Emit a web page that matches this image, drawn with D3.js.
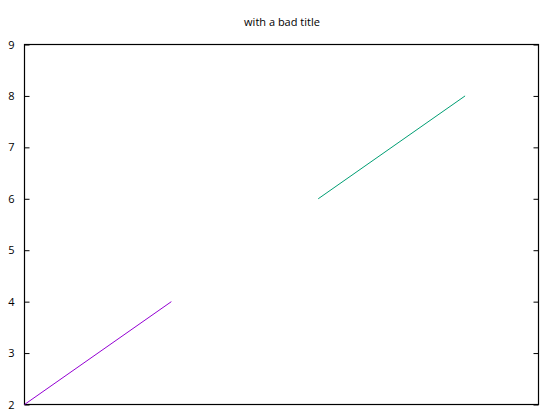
<!DOCTYPE html>
<html><head><meta charset="utf-8">
<script src="https://cdn.jsdelivr.net/npm/d3@7"></script>
<style>body{margin:0;background:#fff}svg{display:block}</style>
</head><body>
<script>
const title = "with a bad title";
const seriesA_x = [0, 1], seriesA_y = [2, 4];
const seriesB_x = [2, 3], seriesB_y = [6, 8];
const yTicks = [2, 3, 4, 5, 6, 7, 8, 9];
const xDomain = [0, 3.5], yDomain = [2, 9];
const colors = ["#9400d3", "#009e73"];

const W = 554, H = 416;
const m = {l: 24.5, r: 538.5, t: 44.5, b: 404.5};
const svg = d3.select("body").append("svg").attr("width", W).attr("height", H)
  .style("font-family", "'Open Sans', sans-serif");
const x = d3.scaleLinear().domain(xDomain).range([m.l, m.r]);
const y = d3.scaleLinear().domain(yDomain).range([m.b, m.t]);

svg.append("text").attr("x", W/2 + 5).attr("y", 26).attr("text-anchor", "middle")
  .attr("font-size", 11).attr("fill", "#000").text(title);

const left = svg.append("g").attr("transform", `translate(${m.l},0)`)
  .call(d3.axisLeft(y).tickValues(yTicks).tickSizeInner(-5).tickSizeOuter(0).tickPadding(10).tickFormat(d3.format("d")));
left.selectAll("text").attr("font-size", 11).attr("fill", "#000").style("font-family", "'Open Sans', sans-serif");
left.select(".domain").remove();
const right = svg.append("g").attr("transform", `translate(${m.r},0)`)
  .call(d3.axisRight(y).tickValues(yTicks).tickSizeInner(-5).tickSizeOuter(0).tickFormat(""));
right.select(".domain").remove();
svg.selectAll(".tick line").attr("stroke", "#000");

svg.append("rect").attr("x", m.l).attr("y", m.t).attr("width", m.r - m.l).attr("height", m.b - m.t)
  .attr("fill", "none").attr("stroke", "#000").attr("stroke-width", 1.2);

const line = d3.line().x(d => x(d[0])).y(d => y(d[1]));
[[seriesA_x, seriesA_y], [seriesB_x, seriesB_y]].forEach((s, i) => {
  svg.append("path").datum(s[0].map((v, j) => [v, s[1][j]]))
    .attr("d", line).attr("fill", "none").attr("stroke", colors[i]).attr("stroke-width", 1);
});
</script>
</body></html>
